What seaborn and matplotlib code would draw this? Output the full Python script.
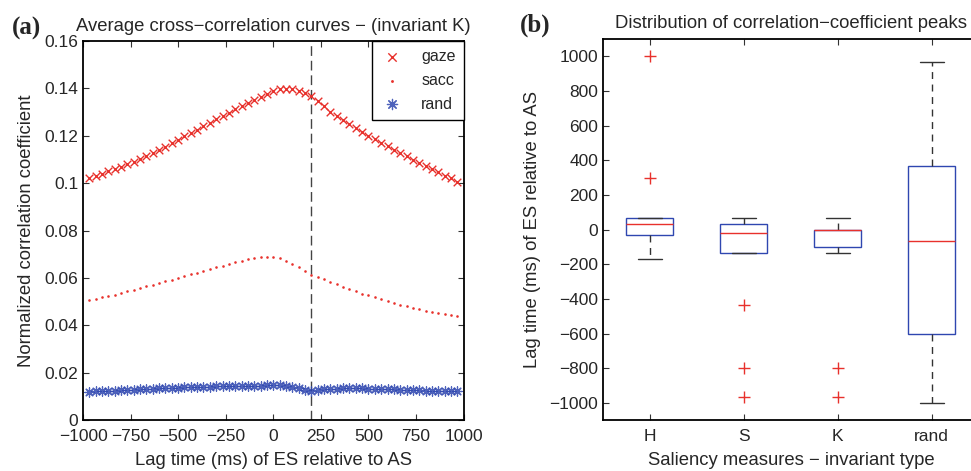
import matplotlib
matplotlib.use("Agg")
import matplotlib.pyplot as plt
import seaborn as sns
import pandas as pd

# lag grid (ms) of the cross-correlation curves
lags = [-967, -933, -900, -867, -833, -800, -767, -733, -700, -667,
        -633, -600, -567, -533, -500, -467, -433, -400, -367, -333,
        -300, -267, -233, -200, -167, -133, -100, -67, -33, 0,
        33, 67, 100, 133, 167, 200, 233, 267, 300, 333,
        367, 400, 433, 467, 500, 533, 567, 600, 633, 667,
        700, 733, 767, 800, 833, 867, 900, 933, 967]

gaze = [0.1022, 0.1031, 0.1040, 0.1050, 0.1060, 0.1070, 0.1080, 0.1091, 0.1102, 0.1114,
        0.1127, 0.1140, 0.1154, 0.1168, 0.1183, 0.1197, 0.1212, 0.1226, 0.1241, 0.1255,
        0.1270, 0.1284, 0.1298, 0.1311, 0.1324, 0.1337, 0.1350, 0.1362, 0.1376, 0.1388,
        0.1396, 0.1399, 0.1396, 0.1390, 0.1380, 0.1366, 0.1346, 0.1324, 0.1302, 0.1282,
        0.1265, 0.1249, 0.1233, 0.1217, 0.1201, 0.1186, 0.1171, 0.1156, 0.1141, 0.1127,
        0.1113, 0.1099, 0.1085, 0.1071, 0.1058, 0.1045, 0.1032, 0.1020, 0.1005]

sacc = [0.0506, 0.0512, 0.0518, 0.0524, 0.0530, 0.0537, 0.0544, 0.0551, 0.0558, 0.0565,
        0.0572, 0.0579, 0.0586, 0.0593, 0.0600, 0.0608, 0.0615, 0.0622, 0.0630, 0.0637,
        0.0645, 0.0652, 0.0659, 0.0666, 0.0672, 0.0678, 0.0684, 0.0688, 0.0690, 0.0688,
        0.0683, 0.0673, 0.0659, 0.0645, 0.0629, 0.0613, 0.0603, 0.0594, 0.0584, 0.0574,
        0.0563, 0.0552, 0.0543, 0.0534, 0.0526, 0.0518, 0.0510, 0.0502, 0.0494, 0.0487,
        0.0480, 0.0473, 0.0467, 0.0461, 0.0456, 0.0451, 0.0447, 0.0443, 0.0440]

rand = [0.0119, 0.0121, 0.0122, 0.0124, 0.0125, 0.0127, 0.0128, 0.0129, 0.0131, 0.0132,
        0.0133, 0.0134, 0.0135, 0.0136, 0.0137, 0.0138, 0.0139, 0.0140, 0.0141, 0.0141,
        0.0142, 0.0143, 0.0144, 0.0144, 0.0145, 0.0145, 0.0146, 0.0146, 0.0147, 0.0147,
        0.0147, 0.0145, 0.0141, 0.0135, 0.0129, 0.0125, 0.0127, 0.0130, 0.0132, 0.0133,
        0.0134, 0.0134, 0.0134, 0.0134, 0.0133, 0.0133, 0.0132, 0.0131, 0.0130, 0.0129,
        0.0128, 0.0127, 0.0126, 0.0125, 0.0125, 0.0124, 0.0124, 0.0124, 0.0124]

# peak lags (ms) per saliency measure
peaks_H = [-167, -33, -33, 0, 33, 67, 67, 300, 1000]
peaks_S = [-967, -800, -433, -133, -133, -100, -17, 0, 33, 33, 33, 67, 67]
peaks_K = [-967, -800, -133, -100, -67, -33, 0, 0, 0, 0, 33, 67, 67]
peaks_rand = [-1000, -833, -600, -300, -67, 133, 367, 633, 967]
measures = ["H", "S", "K", "rand"]

red = "#e8312c"
blue = "#2f47b0"

sns.set_theme(style="ticks")
plt.rcParams["font.family"] = ["Liberation Sans", "DejaVu Sans"]
plt.rcParams["axes.linewidth"] = 1.3
plt.rcParams["xtick.direction"] = "in"
plt.rcParams["ytick.direction"] = "in"
plt.rcParams["xtick.top"] = True
plt.rcParams["ytick.right"] = True

fig = plt.figure(figsize=(9.71, 4.71), dpi=100)
ax1 = fig.add_axes([0.0855, 0.108, 0.392, 0.805])
ax2 = fig.add_axes([0.621, 0.108, 0.387, 0.809])

# (a) cross-correlation curves
sns.scatterplot(x=lags, y=gaze, marker="x", color=red, s=30, linewidth=1.0, label="gaze", ax=ax1)
sns.scatterplot(x=lags, y=sacc, marker=".", color=red, s=14, linewidth=0, label="sacc", ax=ax1)
sns.scatterplot(x=lags, y=rand, marker=(8, 2, 0), color=blue, s=45, linewidth=0.9,
                alpha=0.85, label="rand", ax=ax1)
ax1.axvline(200, color="#444444", linestyle=(0, (7, 3.5)), linewidth=1.0, zorder=0)
ax1.set_xlim(-1000, 1000)
ax1.set_ylim(0, 0.16)
ax1.set_xticks(range(-1000, 1001, 250))
ax1.set_yticks([0, 0.02, 0.04, 0.06, 0.08, 0.1, 0.12, 0.14, 0.16])
ax1.set_yticklabels(["0", "0.02", "0.04", "0.06", "0.08", "0.1", "0.12", "0.14", "0.16"])
ax1.set_xlabel("Lag time (ms) of ES relative to AS", fontsize=13.3, labelpad=6)
ax1.set_ylabel("Normalized correlation coefficient", fontsize=13.3, labelpad=7)
ax1.set_title("Average cross\u2212correlation curves \u2212 (invariant K)", fontsize=13.3, pad=7)
leg = ax1.legend(loc="upper right", borderaxespad=0, fancybox=False, edgecolor="black",
                 fontsize=11.5, handletextpad=1.0, handlelength=1.6, markerscale=1.1,
                 framealpha=1, labelspacing=0.55, borderpad=0.5)
leg.get_frame().set_linewidth(1.0)

# (b) distribution of peaks
df = pd.concat([
    pd.DataFrame({"measure": m, "lag": v})
    for m, v in zip(measures, [peaks_H, peaks_S, peaks_K, peaks_rand])
])
sns.boxplot(data=df, x="measure", y="lag", order=measures, width=0.5, whis=1.5,
            color="white", linecolor=blue, linewidth=1.0, fliersize=8, ax=ax2,
            boxprops=dict(facecolor="white", edgecolor=blue),
            medianprops=dict(color=red, linewidth=1.0),
            whiskerprops=dict(color="#333333", linestyle=(0, (5, 4)), linewidth=1.0),
            capprops=dict(color="#333333", linewidth=1.0),
            flierprops=dict(marker="+", markeredgecolor=red, markersize=8, markeredgewidth=1.0),
            capwidths=0.25)
ax2.set_xlim(-0.5, 3.5)
ax2.set_ylim(-1100, 1100)
ax2.set_yticks(range(-1000, 1001, 200))
ax2.set_xlabel("Saliency measures \u2212 invariant type", fontsize=13.3, labelpad=6)
ax2.set_ylabel("Lag time (ms) of ES relative to AS", fontsize=13.3, labelpad=6)
ax2.set_title("Distribution of correlation\u2212coefficient peaks", fontsize=13.3, pad=8)

for ax in (ax1, ax2):
    ax.tick_params(labelsize=12.5, length=4, width=0.8, color="#333333")
    ax.tick_params(axis="x", pad=6.5)
    for s in ax.spines.values():
        s.set_visible(True)
        s.set_color("black")

fig.text(0.012, 0.926, "(a)", fontsize=18, fontweight="bold", family="Liberation Serif",
         va="baseline")
fig.text(0.535, 0.932, "(b)", fontsize=18, fontweight="bold", family="Liberation Serif",
         va="baseline")

fig.savefig("out.png", dpi=100)
